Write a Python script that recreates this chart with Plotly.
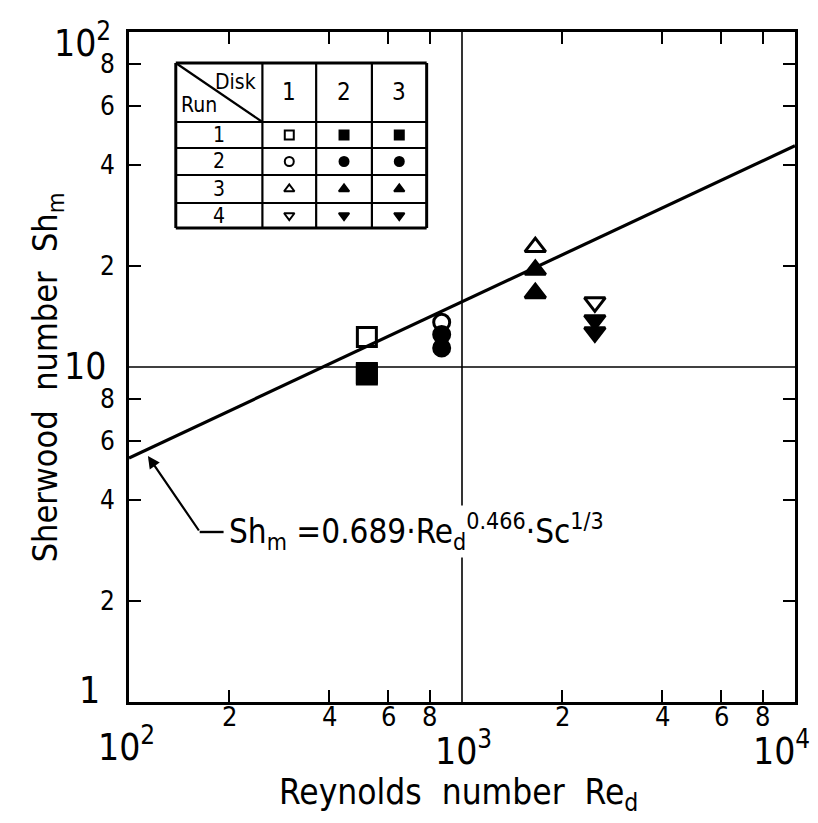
import numpy as np
import plotly.graph_objects as go

# ---------------- data ----------------
re_run = [518, 869, 1660, 2506]           # Reynolds number of runs 1..4
sh_disk1 = [12.3, 13.6, 22.8, 15.6]      # Sherwood number, disk 1
sh_disk2 = [9.6, 12.5, 19.5, 13.8]       # disk 2
sh_disk3 = [9.5, 11.4, 16.6, 12.7]       # disk 3
run_symbols = ["square", "circle", "triangle-up", "triangle-down"]
run_sizes = [19, 16, 18, 18]
fit_coef = 0.626      # 0.689 * Sc^(1/3)
fit_exp = 0.466
fit_re = [100, 10000]
x_minor = [200, 400, 600, 800, 2000, 4000, 6000, 8000]
x_minor_text = ["2", "4", "6", "8", "2", "4", "6", "8"]
x_major = [100, 1000, 10000]
x_major_text = ["10<sup>2</sup>", "10<sup>3</sup>", "10<sup>4</sup>"]
y_minor = [2, 4, 6, 8, 20, 40, 60, 80]
y_minor_text = ["2", "4", "6", "8", "2", "4", "6", "8"]
y_major = [1, 10, 100]
y_major_text = ["1", "10", "10<sup>2</sup>"]
table_cols = ["1", "2", "3"]
table_rows = ["1", "2", "3", "4"]

FONT = "DejaVu Sans Condensed, Liberation Sans Narrow, Arial Narrow, sans-serif"
OFF = 8                       # default page body margin
W, H = 802, 807
L, R, T, B = 121, 12, 24, 113
PW, PH = W - L - R, H - T - B
X0, Y1 = OFF + L, OFF + H - B   # page pixel of plot left / bottom


def px(X):
    return (X - X0) / PW


def py(Y):
    return (Y1 - Y) / PH


fig = go.Figure()

# reference lines at Re=10^3 and Sh=10
fig.add_trace(go.Scatter(x=[1000, 1000], y=[1, 100], mode="lines",
                         line=dict(color="black", width=1.6), hoverinfo="skip"))
fig.add_trace(go.Scatter(x=[100, 10000], y=[10, 10], mode="lines",
                         line=dict(color="black", width=1.6), hoverinfo="skip"))

# correlation line
fit_sh = [fit_coef * r ** fit_exp for r in fit_re]
fig.add_trace(go.Scatter(x=fit_re, y=fit_sh, mode="lines",
                         line=dict(color="black", width=3.2), hoverinfo="skip"))

# data points
for sh, style in [(sh_disk1, "open"), (sh_disk2, "fill"), (sh_disk3, "fill")]:
    for i in range(4):
        sym = run_symbols[i] + ("-open" if style == "open" else "")
        fig.add_trace(go.Scatter(
            x=[re_run[i]], y=[sh[i]], mode="markers",
            marker=dict(symbol=sym, size=run_sizes[i], color="black",
                        line=dict(color="black", width=3)),
        ))

# ---------------- legend table ----------------
tx = [176, 263, 317, 373, 428]
ty = [63, 122, 148, 175, 203, 228]
shapes = []
for X in tx:
    w = 3 if X in (tx[0], tx[-1]) else 2.2
    shapes.append(dict(type="line", xref="paper", yref="paper",
                       x0=px(X), x1=px(X), y0=py(ty[0]), y1=py(ty[-1]),
                       line=dict(color="black", width=w)))
for Y in ty:
    w = 3 if Y in (ty[0], ty[-1]) else 2.2
    shapes.append(dict(type="line", xref="paper", yref="paper",
                       x0=px(tx[0]), x1=px(tx[-1]), y0=py(Y), y1=py(Y),
                       line=dict(color="black", width=w)))
shapes.append(dict(type="line", xref="paper", yref="paper",
                   x0=px(tx[0]), x1=px(tx[1]), y0=py(ty[0]), y1=py(ty[1]),
                   line=dict(color="black", width=2.2)))
# leader line horizontal part
shapes.append(dict(type="line", xref="paper", yref="paper",
                   x0=px(200), x1=px(224), y0=py(532), y1=py(532),
                   line=dict(color="black", width=2.4)))


def A(**kw):
    d = dict(showarrow=False, xanchor="center", yanchor="middle")
    d.update(kw)
    return d


ann = []
ann.append(A(xref="paper", yref="paper", x=px(259), y=py(82), text="Disk",
             xanchor="right", font=dict(size=21, family=FONT, color="black")))
ann.append(A(xref="paper", yref="paper", x=px(179), y=py(105), text="Run",
             xanchor="left", font=dict(size=21, family=FONT, color="black")))
for j, c in enumerate(table_cols):
    ann.append(A(xref="paper", yref="paper", x=px((tx[j + 1] + tx[j + 2]) / 2),
                 y=py((ty[0] + ty[1]) / 2), text=c,
                 font=dict(size=24, family=FONT, color="black")))
for i, r in enumerate(table_rows):
    ann.append(A(xref="paper", yref="paper", x=px((tx[0] + tx[1]) / 2),
                 y=py((ty[i + 1] + ty[i + 2]) / 2), text=r,
                 font=dict(size=21, family=FONT, color="black")))

# legend symbols on an overlay axis spanning the plot area (0..1)
for j in range(3):
    for i in range(4):
        sym = run_symbols[i] + ("-open" if j == 0 else "")
        fig.add_trace(go.Scatter(
            x=[px((tx[j + 1] + tx[j + 2]) / 2)], y=[py((ty[i + 1] + ty[i + 2]) / 2)],
            xaxis="x2", yaxis="y2", mode="markers",
            marker=dict(symbol=sym, size=9, color="black",
                        line=dict(color="black", width=2)),
            hoverinfo="skip"))

# formula with arrow
ann.append(A(xref="paper", yref="paper", x=px(418), y=py(531),
             text="Sh<sub>m</sub> =0.689·Re<sub>d</sub><sup>0.466</sup>·Sc<sup>1/3</sup>",
             bgcolor="white", borderpad=2,
             font=dict(size=33, family=FONT, color="black")))
ann.append(dict(xref="paper", yref="paper", x=px(148), y=py(456), text="",
                showarrow=True, ax=52, ay=76, arrowhead=2, arrowsize=1.1,
                arrowwidth=2.2, arrowcolor="black"))

# tick labels
for v, t in zip(x_minor, x_minor_text):
    ann.append(A(xref="x", yref="paper", x=np.log10(v), y=0, yshift=-14,
                 text=t, font=dict(size=27, family=FONT, color="black")))
x_major_shift = {100: (-3, -42), 1000: (1, -46), 10000: (-14, -46)}
for v, t in zip(x_major, x_major_text):
    xs, ys = x_major_shift[v]
    ann.append(A(xref="x", yref="paper", x=np.log10(v), y=0, xshift=xs,
                 yshift=ys, text=t, font=dict(size=37, family=FONT, color="black")))
for v, t in zip(y_minor, y_minor_text):
    ann.append(A(xref="paper", yref="y", x=0, y=np.log10(v), xshift=-12,
                 text=t, xanchor="right",
                 font=dict(size=26, family=FONT, color="black")))
y_major_shift = {1: (-27, 12), 10: (-21, 1), 100: (-16, -8)}
for v, t in zip(y_major, y_major_text):
    xs, ys = y_major_shift[v]
    ann.append(A(xref="paper", yref="y", x=0, y=np.log10(v), xshift=xs,
                 yshift=ys, text=t, xanchor="right",
                 font=dict(size=37, family=FONT, color="black")))

# axis titles
ann.append(A(xref="paper", yref="paper", x=px(460), y=py(794),
             text="Reynolds\u00a0\u00a0number\u00a0\u00a0Re<sub>d</sub>",
             font=dict(size=35, family=FONT, color="black")))
ann.append(A(xref="paper", yref="paper", x=px(47), y=py(377),
             text="Sherwood\u00a0\u00a0number\u00a0\u00a0Sh<sub>m</sub>",
             textangle=-90, font=dict(size=34, family=FONT, color="black")))

axis_common = dict(type="log", showline=True, linewidth=3.2, linecolor="black",
                   mirror="ticks", ticks="inside", ticklen=12, tickwidth=2.4,
                   tickcolor="black", showticklabels=False, showgrid=False,
                   zeroline=False)
fig.update_layout(
    width=W, height=H,
    margin=dict(l=L, r=R, t=T, b=B),
    paper_bgcolor="white", plot_bgcolor="white",
    showlegend=False,
    xaxis=dict(range=[2, 4], tickvals=x_minor, **axis_common),
    yaxis=dict(range=[0, 2], tickvals=y_minor, **axis_common),
    xaxis2=dict(range=[0, 1], overlaying="x", visible=False, fixedrange=True),
    yaxis2=dict(range=[0, 1], overlaying="y", visible=False, fixedrange=True),
    shapes=shapes,
    annotations=ann,
    font=dict(family=FONT, color="black"),
)

fig.write_html("out.html")
